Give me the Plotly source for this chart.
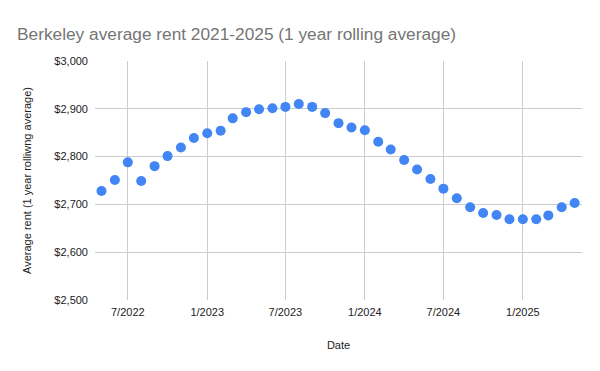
import plotly.graph_objects as go

dates = [
    "2022-05-01", "2022-06-01", "2022-07-01", "2022-08-01", "2022-09-01", "2022-10-01",
    "2022-11-01", "2022-12-01", "2023-01-01", "2023-02-01", "2023-03-01", "2023-04-01",
    "2023-05-01", "2023-06-01", "2023-07-01", "2023-08-01", "2023-09-01", "2023-10-01",
    "2023-11-01", "2023-12-01", "2024-01-01", "2024-02-01", "2024-03-01", "2024-04-01",
    "2024-05-01", "2024-06-01", "2024-07-01", "2024-08-01", "2024-09-01", "2024-10-01",
    "2024-11-01", "2024-12-01", "2025-01-01", "2025-02-01", "2025-03-01", "2025-04-01",
    "2025-05-01",
]
rent = [
    2728, 2751, 2788, 2749, 2780, 2801, 2819, 2839, 2849, 2854, 2880, 2893,
    2899, 2901, 2904, 2910, 2904, 2891, 2870, 2861, 2855, 2831, 2815, 2793,
    2773, 2753, 2733, 2713, 2694, 2682, 2678, 2669, 2669, 2669, 2677, 2694,
    2703,
]
x_tick_vals = ["2022-07-01", "2023-01-01", "2023-07-01", "2024-01-01", "2024-07-01", "2025-01-01"]
x_tick_text = ["7/2022", "1/2023", "7/2023", "1/2024", "7/2024", "1/2025"]
y_tick_vals = [2500, 2600, 2700, 2800, 2900, 3000]
y_tick_text = ["$2,500", "$2,600", "$2,700", "$2,800", "$2,900", "$3,000"]

font = "Liberation Sans, Arial, sans-serif"

# The page body has an 8px default margin, so the figure is sized 592x363
# and the layout is offset accordingly.
W, H = 592, 363

fig = go.Figure(go.Scatter(
    x=dates, y=rent, mode="markers",
    marker=dict(color="#4285F4", size=10, line=dict(width=0)),
))

fig.update_layout(
    width=W, height=H,
    margin=dict(l=87, r=18, t=53, b=71, autoexpand=False),
    paper_bgcolor="white", plot_bgcolor="white",
    showlegend=False,
    font=dict(family=font, color="#222222", size=11),
    title=dict(
        text="Berkeley average rent 2021-2025 (1 year rolling average)",
        x=9 / W, xref="container", xanchor="left",
        y=(H - 26) / H, yref="container", yanchor="middle",
        pad=dict(l=0, r=0, t=0, b=0),
        automargin=False,
        font=dict(family=font, size=17.3, color="#757575"),
    ),
    xaxis=dict(
        type="date",
        range=["2022-04-16", "2025-05-18"],
        tickvals=x_tick_vals, ticktext=x_tick_text,
        showgrid=True, gridcolor="#cccccc", gridwidth=1,
        zeroline=False, showline=False,
        automargin=False,
        ticklabelstandoff=4,
        tickfont=dict(size=11, color="#222222"),
        title=dict(text="Date", standoff=24, font=dict(size=11, color="#222222")),
    ),
    yaxis=dict(
        range=[2500, 3000],
        tickvals=y_tick_vals, ticktext=y_tick_text,
        showgrid=True, gridcolor="#cccccc", gridwidth=1,
        zeroline=False, showline=False,
        automargin=False,
        ticklabelstandoff=6,
        tickfont=dict(size=11, color="#222222"),
        title=dict(text="Average rent (1 year rolliwng average)", standoff=20,
                   font=dict(size=11, color="#222222")),
    ),
)

fig.write_html("out.html")
